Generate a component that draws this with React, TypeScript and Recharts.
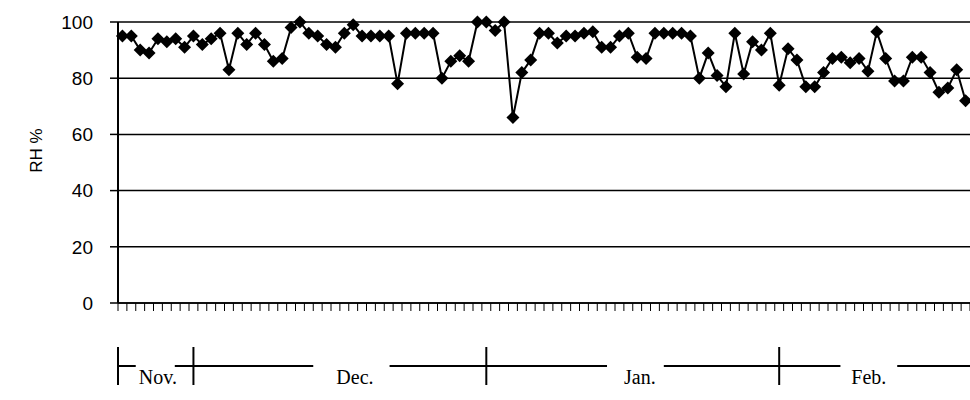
import React from "react";
import { LineChart, Line, XAxis, YAxis, CartesianGrid } from "recharts";

// daily relative humidity readings, late Nov. to Feb.
const RH = [
  95, 95, 90, 89, 94, 93, 94, 91, 95, 92, 94, 96, 83, 96, 92, 96, 92, 86, 87, 98,
  100, 96, 95, 92, 91, 96, 99, 95, 95, 95, 95, 78, 96, 96, 96, 96, 80, 86, 88, 86,
  100, 100, 97, 100, 66, 82, 86.5, 96, 96, 92.5, 95, 95, 96, 96.5, 91, 91, 95, 96, 87.5, 87,
  96, 96, 96, 96, 95, 80, 89, 81, 77, 96, 81.5, 93, 90, 96, 77.5, 90.5, 86.5, 77, 77, 82,
  87, 87.5, 85.5, 87, 82.5, 96.5, 87, 79, 79, 87.5, 87.5, 82, 75, 76.5, 83, 72,
];

const Y_TICKS = [0, 20, 40, 60, 80, 100];

// month annotation row, in day units along the x axis
const MONTHS = ["Nov.", "Dec.", "Jan.", "Feb."];
const MONTH_BARS = [0, 8.5, 41.5, 74.5];
const MONTH_LABEL_AT = [4.5, 26.7, 58.8, 84.6];
const MONTH_LINES: [number, number][] = [[0, 2], [6.4, 22], [30.6, 55.1], [61.5, 81.4], [87.8, 96]];

const N = RH.length;
const W = 970;
const H = 400;
const LEFT = 118;
const PLOT_W = W - LEFT;
const PX_PER_DAY = PLOT_W / N;

const data = RH.map((v, i) => ({ x: i + 0.5, rh: v }));
const dayTicks = Array.from({ length: N + 1 }, (_, i) => i);
const monthTicks = Array.from(
  new Set([...MONTH_BARS, ...MONTH_LABEL_AT, ...MONTH_LINES.map((s) => s[0])])
).sort((a, b) => a - b);

function Diamond(p: any) {
  const { cx, cy, index } = p;
  if (cx == null || cy == null) return <g key={index} />;
  const r = 6.5;
  return (
    <path key={index} d={`M${cx},${cy - r}L${cx + r},${cy}L${cx},${cy + r}L${cx - r},${cy}Z`} fill="#000" />
  );
}

function MonthTick(p: any) {
  const { x, y, payload } = p;
  const v = payload.value;
  const parts: React.ReactNode[] = [];
  if (MONTH_BARS.includes(v)) {
    parts.push(<line key="bar" x1={x} x2={x} y1={y + 34} y2={y + 72} stroke="#000" strokeWidth={2} />);
  }
  MONTH_LINES.forEach(([a, b], i) => {
    if (a === v) {
      parts.push(
        <line key={"l" + i} x1={x} x2={x + (b - a) * PX_PER_DAY} y1={y + 53} y2={y + 53} stroke="#000" strokeWidth={2} />
      );
    }
  });
  const li = MONTH_LABEL_AT.indexOf(v);
  if (li >= 0) {
    parts.push(
      <text key="t" x={x} y={y + 71} textAnchor="middle" fontFamily="Liberation Serif" fontSize={20} fill="#000">
        {MONTHS[li]}
      </text>
    );
  }
  return <g>{parts}</g>;
}

export default function App() {
  return (
    <div style={{ position: "absolute", left: 0, top: 0, width: W, height: H, background: "#fff" }}>
      <LineChart width={W} height={H} data={data} margin={{ top: 22, right: 0, bottom: 0, left: 0 }}>
        <CartesianGrid xAxisId="d" vertical={false} stroke="#000" strokeWidth={1.5} />
        <XAxis
          xAxisId="d"
          type="number"
          dataKey="x"
          domain={[0, N]}
          ticks={dayTicks}
          interval={0}
          tickSize={8}
          tick={() => <g />}
          tickLine={{ stroke: "#000", strokeWidth: 1 }}
          axisLine={{ stroke: "#000", strokeWidth: 1.5 }}
          height={10}
        />
        <XAxis
          xAxisId="m"
          type="number"
          dataKey="x"
          domain={[0, N]}
          ticks={monthTicks}
          interval={0}
          tickSize={0}
          tickMargin={0}
          axisLine={false}
          tickLine={false}
          tick={<MonthTick />}
          height={87}
        />
        <YAxis
          domain={[0, 100]}
          ticks={Y_TICKS}
          width={LEFT}
          tickSize={8}
          tickMargin={17}
          tick={{ fill: "#000", fontFamily: "Liberation Sans", fontSize: 19 }}
          tickLine={{ stroke: "#000", strokeWidth: 1.5 }}
          axisLine={{ stroke: "#000", strokeWidth: 2 }}
          label={({ viewBox }: any) => (
            <text
              x={36}
              y={viewBox.y + viewBox.height / 2 - 12}
              transform={`rotate(-90, 36, ${viewBox.y + viewBox.height / 2 - 12})`}
              textAnchor="middle"
              dominantBaseline="central"
              fontFamily="Liberation Sans"
              fontSize={17}
              fill="#000"
            >
              RH %
            </text>
          )}
        />
        <Line
          xAxisId="d"
          dataKey="rh"
          stroke="#000"
          strokeWidth={2}
          dot={Diamond}
          activeDot={false}
          isAnimationActive={false}
        />
      </LineChart>
    </div>
  );
}
